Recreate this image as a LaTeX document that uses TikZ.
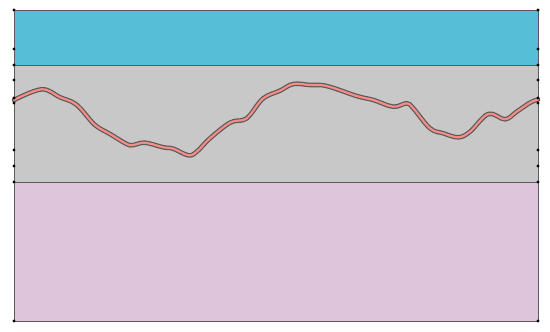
\documentclass[tikz,border=0pt]{standalone}
\definecolor{topcyan}{RGB}{86,190,215}
\definecolor{midgray}{RGB}{200,200,200}
\definecolor{lowpink}{RGB}{222,197,220}
\definecolor{edgegray}{RGB}{90,90,90}
\definecolor{curvepink}{RGB}{246,140,135}
\tikzset{
  layer/.style={draw=edgegray, line width=1pt},
  vdot/.style={circle, fill=black, inner sep=0pt, minimum size=3.2pt},
  outerline/.style={line width=4.6pt, draw=black!65, line cap=round, line join=round},
  innerline/.style={line width=2.2pt, draw=curvepink, line cap=round, line join=round}
}
\begin{document}
\begin{tikzpicture}[x=1pt,y=-1pt]
\useasboundingbox (0,0) rectangle (550,332);
\fill[white] (0,0) rectangle (550,332);
% layers
\filldraw[layer, fill=topcyan] (14,10) rectangle (538,65);
\filldraw[layer, fill=midgray] (14,65) rectangle (538,182);
\filldraw[layer, fill=lowpink] (14,182) rectangle (538,321);
% wavy curve
\def\curvepts{(14,100) (41.7,89.3) (60,97.3) (71.7,101.7) (80,108) (95,125) (110,134) (126.7,144) (133.3,145) (145,142.7) (163.3,147.3) (173.3,148.7) (188.3,155.3) (196.7,151.7) (210,138.3) (230,122.7) (243.3,120) (250,115) (263.3,98.3) (280,90.7) (293.3,84) (310,85) (326.7,86) (356.7,96) (373.3,100) (393.3,106.7) (406.7,103.3) (413.3,108.3) (430,128.3) (443.3,133.3) (458.3,137.3) (470,131.7) (488.3,114) (505,119.3) (516.7,111.7) (530,102.7) (538,99.5)}
\draw[outerline] plot[smooth, tension=0.6] coordinates {\curvepts};
\draw[innerline] plot[smooth, tension=0.6] coordinates {\curvepts};
% edge dots
\foreach \yy in {10,49,65,80,98,103,150,166,182,321}{
  \node[vdot] at (14,\yy) {};
  \node[vdot] at (538,\yy) {};
}
\end{tikzpicture}
\end{document}
